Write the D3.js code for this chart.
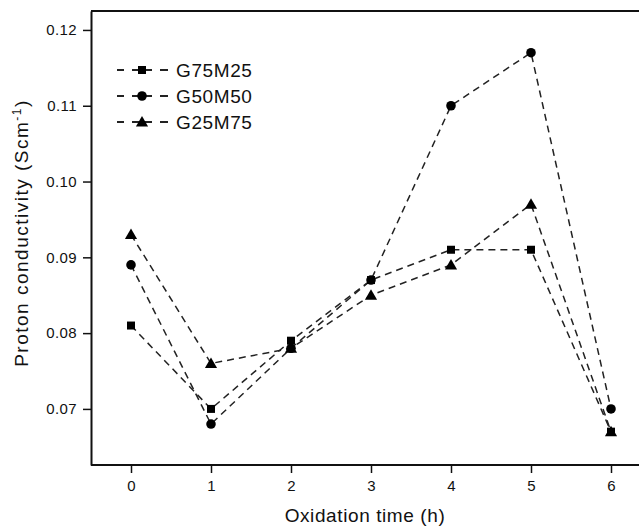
<!DOCTYPE html>
<html>
<head>
<meta charset="utf-8">
<script src="https://cdn.jsdelivr.net/npm/d3@7"></script>
<style>
  body { margin: 0; background: #fff; }
  text { font-family: "Liberation Sans", Arial, sans-serif; fill: #111; }
</style>
</head>
<body>
<svg width="639" height="528"></svg>
<script>
// data
var hours = [0, 1, 2, 3, 4, 5, 6];
var g75m25 = [0.081, 0.070, 0.079, 0.087, 0.091, 0.091, 0.067];
var g50m50 = [0.089, 0.068, 0.078, 0.087, 0.110, 0.117, 0.070];
var g25m75 = [0.093, 0.076, 0.078, 0.085, 0.089, 0.097, 0.067];
var seriesNames = ["G75M25", "G50M50", "G25M75"];
var yTicks = [0.07, 0.08, 0.09, 0.10, 0.11, 0.12];

var svg = d3.select("svg");

var mLeft = 91, mTop = 11, mBottom = 465, mRight = 645;

// x domain chosen so ticks land where they do in the picture (right frame is cut off)
var x = d3.scaleLinear().domain([-0.5, 6.425]).range([mLeft, mRight]);
var y = d3.scaleLinear().domain([0.0626, 0.1225]).range([mBottom, mTop]);

var series = [
  { name: seriesNames[0], values: g75m25, symbol: d3.symbolSquare, size: 64 },
  { name: seriesNames[1], values: g50m50, symbol: d3.symbolCircle, size: 72 },
  { name: seriesNames[2], values: g25m75, symbol: d3.symbolTriangle, size: 64 }
];

// frame: top line, left axis, bottom axis
svg.append("line")
  .attr("x1", mLeft).attr("x2", 639 + 5)
  .attr("y1", mTop).attr("y2", mTop)
  .attr("stroke", "#111").attr("stroke-width", 2);

var xAxis = svg.append("g")
  .attr("transform", "translate(0," + mBottom + ")")
  .call(d3.axisBottom(x).tickValues(hours).tickSize(8).tickPadding(7)
    .tickFormat(d3.format("d")).tickSizeOuter(0));

var yAxis = svg.append("g")
  .attr("transform", "translate(" + mLeft + ",0)")
  .call(d3.axisLeft(y).tickValues(yTicks).tickSize(8).tickPadding(6)
    .tickFormat(d3.format(".2f")).tickSizeOuter(0));

[xAxis, yAxis].forEach(function (a) {
  a.select(".domain").attr("stroke", "#111").attr("stroke-width", 2);
  a.selectAll(".tick line").attr("stroke", "#111").attr("stroke-width", 1.5);
  a.selectAll(".tick text")
    .style("font-family", "'Liberation Sans', Arial, sans-serif")
    .style("font-size", "15px").style("letter-spacing", "0.4px").attr("fill", "#111");
});
// extend bottom axis to the right edge
xAxis.select(".domain").attr("d", "M" + mLeft + ",0H" + (639 + 5));

// lines
var line = d3.line()
  .x(function (d, i) { return x(hours[i]); })
  .y(function (d) { return y(d); });

series.forEach(function (s) {
  svg.append("path")
    .datum(s.values)
    .attr("d", line)
    .attr("fill", "none")
    .attr("stroke", "#222")
    .attr("stroke-width", 1.5)
    .attr("stroke-dasharray", "7,5");
});

series.forEach(function (s) {
  svg.append("g").selectAll("path")
    .data(s.values)
    .enter().append("path")
    .attr("d", d3.symbol().type(s.symbol).size(s.size))
    .attr("transform", function (d, i) {
      var dy = s.symbol === d3.symbolTriangle ? 1 : 0;
      return "translate(" + x(hours[i]) + "," + (y(d) + dy) + ")";
    })
    .attr("fill", "#000");
});

// legend
var legend = svg.append("g");
series.forEach(function (s, i) {
  var ly = 70 + i * 26;
  var row = legend.append("g").attr("transform", "translate(0," + ly + ")");
  row.append("line")
    .attr("x1", 117).attr("x2", 168)
    .attr("stroke", "#222").attr("stroke-width", 1.8)
    .attr("stroke-dasharray", "7,8,20,8,8");
  row.append("path")
    .attr("d", d3.symbol().type(s.symbol).size(s.size))
    .attr("transform", "translate(142," + (s.symbol === d3.symbolTriangle ? 1 : 0) + ")")
    .attr("fill", "#000");
  row.append("text")
    .attr("x", 176).attr("y", 7)
    .style("font-size", "19px")
    .style("letter-spacing", "0.6px")
    .text(s.name);
});

// axis titles
svg.append("text")
  .attr("x", 365).attr("y", 522)
  .attr("text-anchor", "middle")
  .style("font-size", "19px")
  .style("letter-spacing", "0.6px")
  .text("Oxidation time (h)");

var yt = svg.append("text")
  .attr("transform", "translate(28,233) rotate(-90)")
  .attr("text-anchor", "middle")
  .style("font-size", "19px")
  .style("letter-spacing", "1.5px");
yt.append("tspan").text("Proton conductivity (Scm");
yt.append("tspan").attr("dy", -7).style("font-size", "12px").text("-1");
yt.append("tspan").attr("dy", 7).text(")");
</script>
</body>
</html>
